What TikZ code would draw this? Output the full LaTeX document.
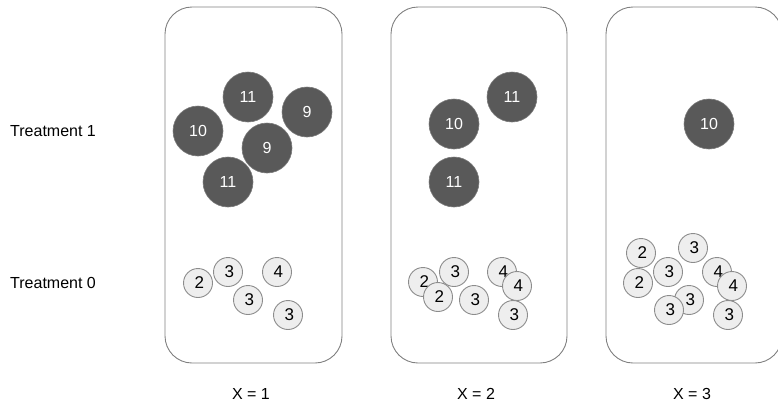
\documentclass[tikz,border=0pt]{standalone}
\usepackage{fontspec}
\setmainfont{Liberation Sans}
\definecolor{darkball}{HTML}{595959}
\definecolor{lightball}{HTML}{EEEEEE}
\definecolor{ballrim}{HTML}{8C8C8C}
\definecolor{panelrim}{HTML}{808080}
\tikzset{
  panel/.style={draw=panelrim, line width=0.9pt, rounded corners=27pt},
  treated/.style={circle, fill=darkball, draw=darkball!80!white, line width=0.6pt,
    minimum size=50pt, inner sep=0pt, text=white, font=\fontsize{16}{16}\selectfont},
  control/.style={circle, fill=lightball, draw=ballrim, line width=0.9pt,
    minimum size=29pt, inner sep=0pt, text=black, font=\fontsize{17}{17}\selectfont,
    execute at begin node={\hspace*{2.5pt}}},
  caption/.style={font=\fontsize{16}{16}\selectfont, inner sep=0pt},
}
\begin{document}
\begin{tikzpicture}[x=1pt, y=-1pt]
\useasboundingbox (0,0) rectangle (778,402);
\begin{scope}
\clip (0,0) rectangle (778,402);
% panels
\draw[panel] (165,7) rectangle (342,363);
\draw[panel] (391,7) rectangle (567,363);
\draw[panel] (606,7) rectangle (782,363);
\end{scope}

% row labels
\node[caption, anchor=west] (t1) at (10,131) {Treatment 1};
\node[caption, anchor=west] (t0) at (10,283) {Treatment 0};

% column labels
\node[caption] (x1) at (251,394) {X = 1};
\node[caption] (x2) at (476,394) {X = 2};
\node[caption] (x3) at (692,394) {X = 3};

% X = 1, treatment 1
\node[treated] (a1) at (248,97) {11};
\node[treated] (a2) at (307,112) {9};
\node[treated] (a3) at (198,131) {10};
\node[treated] (a4) at (267,148) {9};
\node[treated] (a5) at (228,182) {11};
% X = 1, treatment 0
\node[control] (b1) at (198,283) {2};
\node[control] (b2) at (228,272) {3};
\node[control] (b3) at (277,272) {4};
\node[control] (b4) at (248,300) {3};
\node[control] (b5) at (288,315) {3};

% X = 2, treatment 1
\node[treated] (c1) at (512,97) {11};
\node[treated] (c2) at (454,124) {10};
\node[treated] (c3) at (454,182) {11};
% X = 2, treatment 0
\node[control] (d1) at (423,282) {2};
\node[control] (d2) at (454,272) {3};
\node[control] (d3) at (438,297) {2};
\node[control] (d4) at (474,300) {3};
\node[control] (d5) at (502,272) {4};
\node[control] (d6) at (517,286) {4};
\node[control] (d7) at (513,315) {3};

% X = 3, treatment 1
\node[treated] (e1) at (709,124) {10};
% X = 3, treatment 0
\node[control] (f1) at (641,253) {2};
\node[control] (f2) at (638,283) {2};
\node[control] (f3) at (668,272) {3};
\node[control] (f4) at (693,248) {3};
\node[control] (f5) at (717,272) {4};
\node[control] (f6) at (732,286) {4};
\node[control] (f7) at (689,300) {3};
\node[control] (f8) at (669,310) {3};
\node[control] (f9) at (728,315) {3};
\end{tikzpicture}
\end{document}
